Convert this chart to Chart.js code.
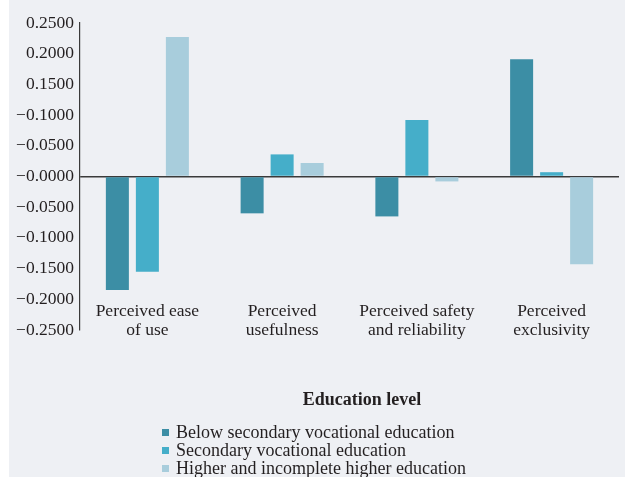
<!DOCTYPE html>
<html>
<head>
<meta charset="utf-8">
<script src="https://cdn.jsdelivr.net/npm/chart.js@4.4.0/dist/chart.umd.min.js"></script>
<style>
  html, body { margin: 0; padding: 0; background: #ffffff; }
  #wrap { position: relative; width: 625px; height: 477px; overflow: hidden; }
  #panel { position: absolute; left: 9px; top: 0; width: 616px; height: 477px; background: #eef0f4; }
  #c { position: absolute; left: 0; top: 0; }
  #legend { position: absolute; left: 0; top: 389px; width: 625px; font-family: "Liberation Serif", serif; color: #231f20; }
  #legend .title { text-align: center; font-weight: bold; font-size: 18px; line-height: 20px; padding-left: 99px; margin-bottom: 14px; }
  #legend .item { position: relative; height: 18px; line-height: 18px; font-size: 18px; padding-left: 176px; }
  #legend .sw { position: absolute; left: 162px; top: 6px; width: 7px; height: 7px; }
</style>
</head>
<body>
<div id="wrap">
  <div id="panel"></div>
  <canvas id="c" width="625" height="477"></canvas>
  <div id="legend"></div>
</div>
<script>
var categories = [['Perceived ease', 'of use'], ['Perceived', 'usefulness'], ['Perceived safety', 'and reliability'], ['Perceived', 'exclusivity']]
var seriesNames = ['Below secondary vocational education', 'Secondary vocational education', 'Higher and incomplete higher education']
var belowSecondary = [-0.185, -0.060, -0.065, 0.191]
var secondary = [-0.155, 0.036, 0.092, 0.007]
var higher = [0.227, 0.022, -0.008, -0.143]
// the printed axis labels, top to bottom, as they appear in the source
var yTickLabels = ['0.2500', '0.2000', '0.1500', '\u22120.1000', '\u22120.0500', '\u22120.0000', '\u22120.0500', '\u22120.1000', '\u22120.1500', '\u22120.2000', '\u22120.2500']
var colors = ['#3c8ea5', '#45aec9', '#a8cddc']

var serif = '"Liberation Serif", serif'
var ink = '#231f20'

// category labels sit inside the bottom of the plot area
var xLabelsPlugin = {
	id: 'xLabels',
	afterDraw: function(chart) {
		var ctx = chart.ctx
		var x = chart.scales.x
		var area = chart.chartArea
		ctx.save()
		ctx.font = '17.5px ' + serif
		ctx.fillStyle = ink
		ctx.textAlign = 'center'
		ctx.textBaseline = 'middle'
		categories.forEach(function(lines, i) {
			var px = x.getPixelForValue(i)
			lines.forEach(function(line, j) {
				ctx.fillText(line, px, area.bottom - 19 + j * 19)
			})
		})
		ctx.restore()
	}
}

var ctx = document.getElementById('c').getContext('2d')
var chart = new Chart(ctx, {
	type: 'bar',
	data: {
		labels: categories.map(function(c) { return c.join(' ') }),
		datasets: [
			{ label: seriesNames[0], data: belowSecondary, backgroundColor: colors[0] },
			{ label: seriesNames[1], data: secondary, backgroundColor: colors[1] },
			{ label: seriesNames[2], data: higher, backgroundColor: colors[2] }
		]
	},
	options: {
		responsive: false,
		animation: false,
		categoryPercentage: 0.668,
		barPercentage: 0.767,
		layout: { padding: { top: 23, right: 6, bottom: 147, left: 0 } },
		plugins: {
			legend: { display: false },
			tooltip: { enabled: false }
		},
		scales: {
			x: {
				display: false
			},
			y: {
				min: -0.25,
				max: 0.25,
				afterFit: function(scale) { scale.width = 80 },
				ticks: {
					stepSize: 0.05,
					padding: 6,
					color: ink,
					font: { family: serif, size: 17.5 },
					callback: function(value, index, ticks) {
						return yTickLabels[ticks.length - 1 - index]
					}
				},
				grid: {
					drawTicks: false,
					color: function(c) { return Math.abs(c.tick.value) < 1e-9 ? '#3a3a3a' : 'rgba(0,0,0,0)' },
					lineWidth: 1.5
				},
				border: { display: true, color: '#3a3a3a', width: 1.2 }
			}
		}
	},
	plugins: [xLabelsPlugin]
})

var legend = document.getElementById('legend')
var html = '<div class="title">Education level</div>'
seriesNames.forEach(function(name, i) {
	html += '<div class="item"><span class="sw" style="background:' + colors[i] + '"></span>' + name + '</div>'
})
legend.innerHTML = html
</script>
</body>
</html>
